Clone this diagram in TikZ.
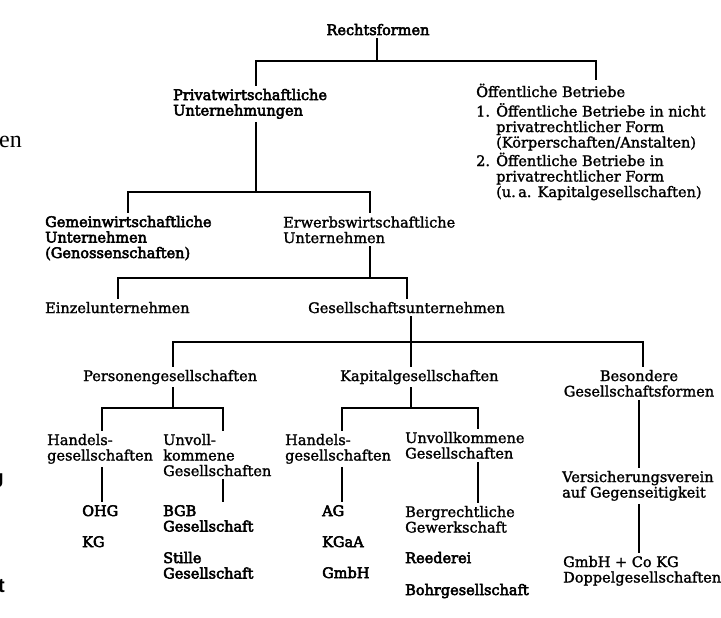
\documentclass[tikz,border=0pt]{standalone}
\usepackage{fontspec}
\setmainfont{DejaVu Serif}[FakeBold=1.6]
\newfontfamily\heavyfont{DejaVu Serif}[FakeBold=3.5]
\newfontfamily\edgeserif{Liberation Serif}
\newfontfamily\edgesans{Liberation Sans}
\usetikzlibrary{
  calc,
  positioning,
}
\tikzstyle{entry} = [
  inner xsep=0pt,
  inner ysep=3pt,
  anchor=base west,
  align=left,
  font=\fontsize{14.5}{15.5}\selectfont,
]
\tikzstyle{heavy} = [
  entry,
  font=\fontsize{14.5}{15.5}\selectfont\heavyfont,
]
\tikzstyle{link} = [
  line width=1.7pt,
  black,
]
\newcommand{\itemno}[1]{\makebox[20pt][l]{#1}}

\begin{document}
\lineskiplimit=-20pt
\begin{tikzpicture}[x=1pt,y=-1pt]
    \useasboundingbox (0,0) rectangle (721,618);

    % cut-off letters of the facing page
    \node[inner sep=0pt,anchor=base west,font=\fontsize{24}{24}\edgeserif] (edgeA) at (-1,147) {en};
    \node[inner sep=0pt,anchor=base east,font=\fontsize{20}{20}\edgesans\bfseries] (edgeB) at (4,487) {J};
    \node[inner sep=0pt,anchor=base east,font=\fontsize{20}{20}\edgesans\bfseries] (edgeC) at (5,592) {t};

    % top (multi-line nodes sit on their last baseline)
    \node[heavy,anchor=base] (rf) at (378,35) {Rechtsformen};
    \node[heavy] (pw) at (173,115.5) {Privatwirtschaftliche\\Unternehmungen};
    \node[entry] (ob) at (476,197) {Öffentliche Betriebe\\[4pt]
      \itemno{1.}Öffentliche Betriebe in nicht\\
      \itemno{}privatrechtlicher Form\\
      \itemno{}(Körperschaften/Anstalten)\\[3pt]
      \itemno{2.}Öffentliche Betriebe in\\
      \itemno{}privatrechtlicher Form\\
      \itemno{}(u.\,a. Kapitalgesellschaften)};

    \node[heavy] (gw) at (45,258) {Gemeinwirtschaftliche\\Unternehmen\\(Genossenschaften)};
    \node[entry] (ew) at (283,243) {Erwerbswirtschaftliche\\Unternehmen};

    \node[entry] (ez) at (45,313) {Einzelunternehmen};
    \node[entry] (gs) at (308,313) {Gesellschaftsunternehmen};

    \node[entry] (pg) at (83,381) {Personengesellschaften};
    \node[entry] (kg) at (340,381) {Kapitalgesellschaften};
    \node[entry,anchor=base,align=center] (bg) at (639,396.5) {Besondere\\Gesellschaftsformen};

    \node[entry] (ph) at (47,460.5) {Handels-\\gesellschaften};
    \node[entry] (pu) at (163,476) {Unvoll-\\kommene\\Gesellschaften};
    \node[entry] (kh) at (285,460.5) {Handels-\\gesellschaften};
    \node[entry] (ku) at (405,458.5) {Unvollkommene\\Gesellschaften};
    \node[entry] (vv) at (562,497.5) {Versicherungsverein\\auf Gegenseitigkeit};

    % leaves
    \node[heavy] (ohg) at (82,516) {OHG};
    \node[heavy] (kgl) at (82,547) {KG};
    \node[heavy] (bgb) at (163,531.5) {BGB\\Gesellschaft};
    \node[heavy] (stille) at (163,578.5) {Stille\\Gesellschaft};
    \node[heavy] (ag) at (322,516) {AG};
    \node[heavy] (kgaa) at (322,547) {KGaA};
    \node[heavy] (gmbh) at (322,578) {GmbH};
    \node[entry] (bgw) at (405,532.5) {Bergrechtliche\\Gewerkschaft};
    \node[heavy] (reed) at (405,563) {Reederei};
    \node[heavy] (bohr) at (405,595) {Bohrgesellschaft};
    \node[entry] (dg) at (563,582.5) {GmbH + Co KG\\Doppelgesellschaften};

    % connectors
    \coordinate (rfbar) at (377,61);
    \draw[link] (rf.south -| rfbar) -- (rfbar);
    \draw[link] (pw.north -| 256,0) |- (rfbar) -| (ob.north -| 596,0);

    \coordinate (pwbar) at (256,192);
    \draw[link] (pw.south -| pwbar) -- (pwbar);
    \draw[link] (gw.north -| 128,0) |- (pwbar) -| (ew.north -| 370,0);

    \coordinate (ewbar) at (370,278);
    \draw[link] (ew.south -| ewbar) -- (ewbar);
    \draw[link] (ez.north -| 118,0) |- (ewbar) -| (gs.north -| 407,0);

    \coordinate (gsbar) at (411,342);
    \draw[link] (gs.south -| gsbar) -- (kg.north -| gsbar);
    \draw[link] (pg.north -| 173,0) |- (gsbar) -| (bg.north -| 643,0);

    \coordinate (pgbar) at (173,408);
    \draw[link] (pg.south -| pgbar) -- (pgbar);
    \draw[link] (ph.north -| 102,0) |- (pgbar) -| (pu.north -| 223,0);

    \coordinate (kgbar) at (411,408);
    \draw[link] (kg.south -| kgbar) -- (kgbar);
    \draw[link] (kh.north -| 342,0) |- (kgbar) -| (ku.north -| 478,0);

    \draw[link] (ph.south -| 102,0) -- (ohg.north -| 102,0);
    \draw[link] (pu.south -| 223,0) -- (bgb.north -| 223,0);
    \draw[link] (kh.south -| 342,0) -- (ag.north -| 342,0);
    \draw[link] (ku.south -| 478,0) -- (bgw.north -| 478,0);
    \draw[link] (bg.south -| 639,0) -- (vv.north -| 639,0);
    \draw[link] (vv.south -| 639,0) -- (dg.north -| 639,0);
\end{tikzpicture}
\end{document}
